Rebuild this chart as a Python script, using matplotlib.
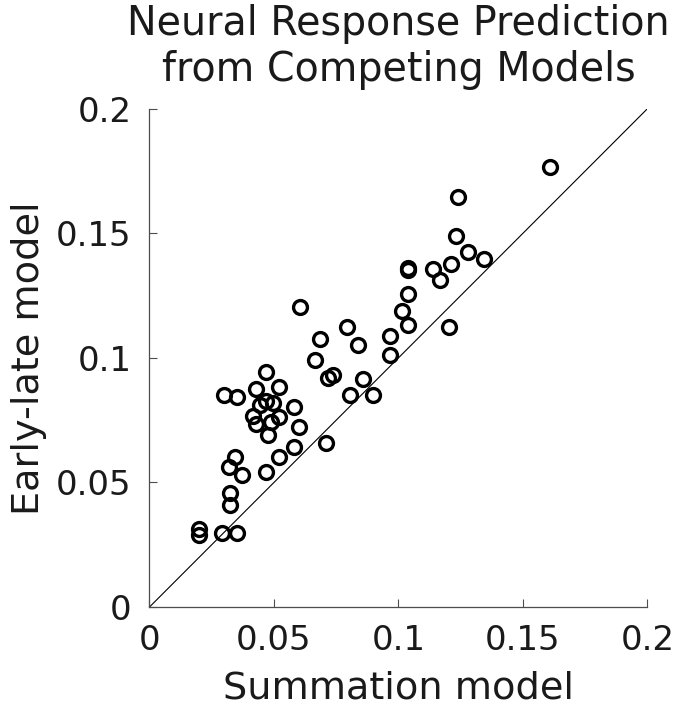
import matplotlib
matplotlib.use('Agg')
import matplotlib.pyplot as plt

plt.rcParams['font.family'] = ['DejaVu Sans']

# summation model (x) vs early-late model (y)
summation = [0.161, 0.1241, 0.1229, 0.128, 0.1342, 0.1212, 0.1137, 0.1168,
             0.1038, 0.1040, 0.1038, 0.1016, 0.1038, 0.1203, 0.0967, 0.0967,
             0.0606, 0.0795, 0.0686, 0.0837, 0.0665, 0.0738, 0.0717, 0.0859,
             0.0807, 0.0898, 0.0707, 0.0469, 0.0300, 0.0352, 0.0428, 0.0519,
             0.0466, 0.0443, 0.0495, 0.0580, 0.0415, 0.0428, 0.0522, 0.0489,
             0.0600, 0.0476, 0.0580, 0.0520, 0.0467, 0.0344, 0.0321, 0.0373,
             0.0325, 0.0325, 0.0200, 0.0200, 0.0290, 0.0352]
early_late = [0.1767, 0.1646, 0.1487, 0.1426, 0.1397, 0.1375, 0.1358, 0.1312,
              0.1362, 0.1351, 0.1255, 0.1186, 0.1132, 0.1125, 0.1086, 0.1011,
              0.1205, 0.1125, 0.1074, 0.1050, 0.0993, 0.0933, 0.0921, 0.0914,
              0.0852, 0.0852, 0.0660, 0.0943, 0.0850, 0.0842, 0.0874, 0.0884,
              0.0826, 0.0810, 0.0817, 0.0801, 0.0766, 0.0734, 0.0764, 0.0744,
              0.0723, 0.0690, 0.0641, 0.0603, 0.0541, 0.0602, 0.0560, 0.0530,
              0.0456, 0.0410, 0.0312, 0.0290, 0.0298, 0.0298]

ticks = [0, 0.05, 0.1, 0.15, 0.2]
tick_labels = ['0', '0.05', '0.1', '0.15', '0.2']

fig = plt.figure(figsize=(6.77, 7.2), dpi=100)
ax = fig.add_axes([0.2208, 0.1569, 0.7356, 0.6922])

ax.plot([0, 0.2], [0, 0.2], color='black', lw=0.8)
ax.plot(summation, early_late, 'o', ms=10, mfc='none', mec='black', mew=2.4)

ax.set_xlim(0, 0.2)
ax.set_ylim(0, 0.2)
ax.set_xticks(ticks)
ax.set_xticklabels(tick_labels)
ax.set_yticks(ticks)
ax.set_yticklabels(tick_labels)
ax.tick_params(direction='in', length=6, width=0.8, color='#4d4d4d',
               labelsize=24.5, labelcolor='#1a1a1a')
ax.tick_params(axis='x', pad=12)
ax.tick_params(axis='y', pad=13)
for s in ['top', 'right']:
    ax.spines[s].set_visible(False)
for s in ['left', 'bottom']:
    ax.spines[s].set_color('#4d4d4d')
    ax.spines[s].set_linewidth(0.9)

ax.set_xlabel('Summation model', fontsize=27.5, labelpad=10, color='#1a1a1a')
ax.set_ylabel('Early-late model', fontsize=27.5, labelpad=6, color='#1a1a1a')
ax.set_title('Neural Response Prediction\nfrom Competing Models', fontsize=28.5,
             pad=20, linespacing=1.2, color='#1a1a1a')

fig.savefig('out.png', dpi=100, facecolor='white')
